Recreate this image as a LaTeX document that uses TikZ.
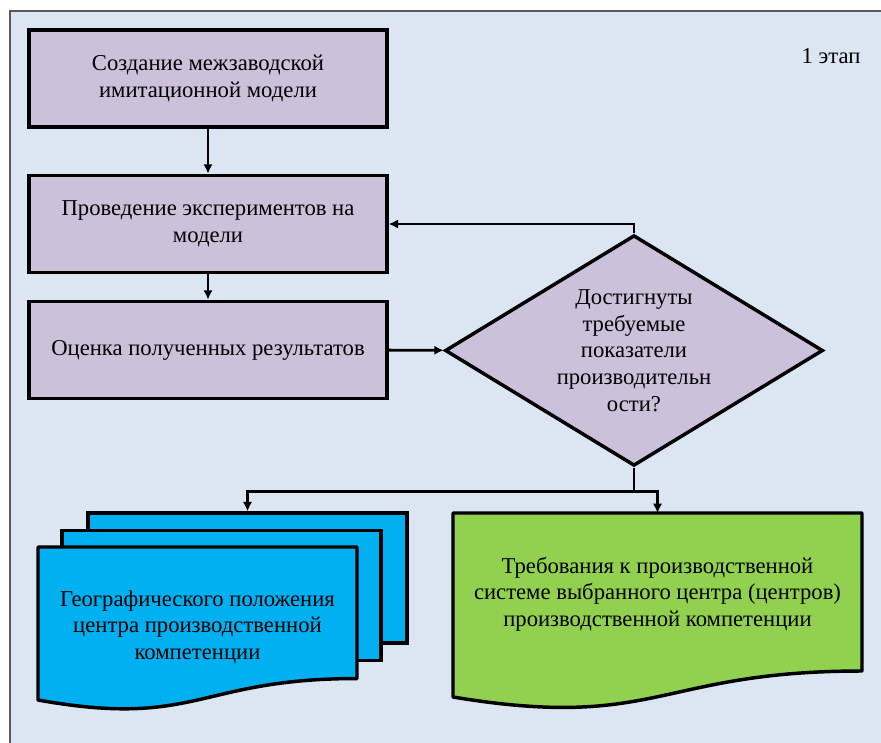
\documentclass[tikz,border=0pt]{standalone}
\usepackage{fontspec}
\setmainfont{Liberation Serif}
\usetikzlibrary{shapes.geometric,arrows.meta,positioning,calc}

\definecolor{bgblue}{HTML}{DCE6F2}
\definecolor{boxlilac}{HTML}{CCC1DA}
\definecolor{docblue}{HTML}{00B0F0}
\definecolor{docgreen}{HTML}{92D050}

\pgfdeclarelayer{frame}
\pgfdeclarelayer{sheets}
\pgfsetlayers{frame,sheets,main}

\tikzset{
	txt/.style={font=\fontsize{17}{20}\selectfont, align=center},
	procbox/.style={txt, draw=black, fill=boxlilac, line width=2.6pt, minimum width=268.5pt, minimum height=73pt},
	decision/.style={txt, diamond, aspect=1.64, draw=black, fill=boxlilac, line width=2.6pt, inner sep=0pt, minimum width=283.5pt, minimum height=173pt},
	page/.style={draw=black, line width=2.6pt, fill=docblue, minimum width=239.25pt, minimum height=97.5pt},
	doctext/.style={txt, inner sep=0pt, outer sep=0pt, minimum height=118.5pt},
	sheet/.style={draw=black, line width=2.6pt, line join=round},
	arr/.style={line width=2.2pt, -{Latex[length=7pt,width=7pt]}},
	conn/.style={line width=2.2pt}
}

\begin{document}
\begin{tikzpicture}[x=0.75pt,y=-0.75pt]
	\useasboundingbox (0,0) rectangle (881,742);
	
	\begin{pgfonlayer}{frame}
		\fill[bgblue] (10,11) rectangle (895,755);
		\draw[black!65, line width=1pt] (10,755) -- (10,11) -- (895,11);
	\end{pgfonlayer}
	
	\node[txt] (stage) at (831,56) {1 этап};
	
	\node[procbox] (create) at (208,78.5) {Создание межзаводской\\имитационной модели};
	\node[procbox] (exper) at (208,224) {Проведение экспериментов на\\модели};
	\node[procbox] (eval) at (208,350) {Оценка полученных результатов};
	\node[decision] (decide) at (634,350.5) {Достигнуты\\требуемые\\показатели\\производительн\\ости?};
	
	\node[doctext, minimum width=239.25pt] (geo) at (197.5,627) {Географического положения\\центра производственной\\компетенции};
	\node[doctext, minimum width=306.75pt] (req) at (657.5,594) {Требования к производственной\\системе выбранного центра (центров)\\производственной компетенции};
	
	\begin{pgfonlayer}{sheets}
		\node[page] (geoback) at (247.5,578) {};
		\node[page] (geomid) at (221.5,595.5) {};
		\draw[sheet, fill=docblue] ([yshift=0.75pt]geo.north west) -- ([yshift=0.75pt]geo.north east) -- ([yshift=20.6pt]geo.south east)
			.. controls ([yshift=20.6pt]geo.south) and ([yshift=-16.9pt]geo.south) .. ([yshift=4.5pt]geo.south west) -- cycle;
		\draw[sheet, fill=docgreen] ([yshift=1.5pt]req.north west) -- ([yshift=1.5pt]req.north east) -- ([yshift=1.5pt]req.south east)
			.. controls ([yshift=1.5pt]req.south) and ([yshift=-43.5pt]req.south) .. ([yshift=-18pt]req.south west) -- cycle;
	\end{pgfonlayer}
	
	\coordinate (split) at ($(decide.south)+(0,24)$);
	
	\draw[arr] (create) -- (exper);
	\draw[arr] (exper) -- (eval);
	\draw[arr] (eval) -- (decide);
	\draw[arr] (decide.north) |- (exper.east);
	\draw[conn] (decide.south) -- (split);
	\draw[arr] (split) -| (geoback.north);
	\draw[arr, shorten >=1.5pt] (split) -| (req.north);
\end{tikzpicture}
\end{document}
